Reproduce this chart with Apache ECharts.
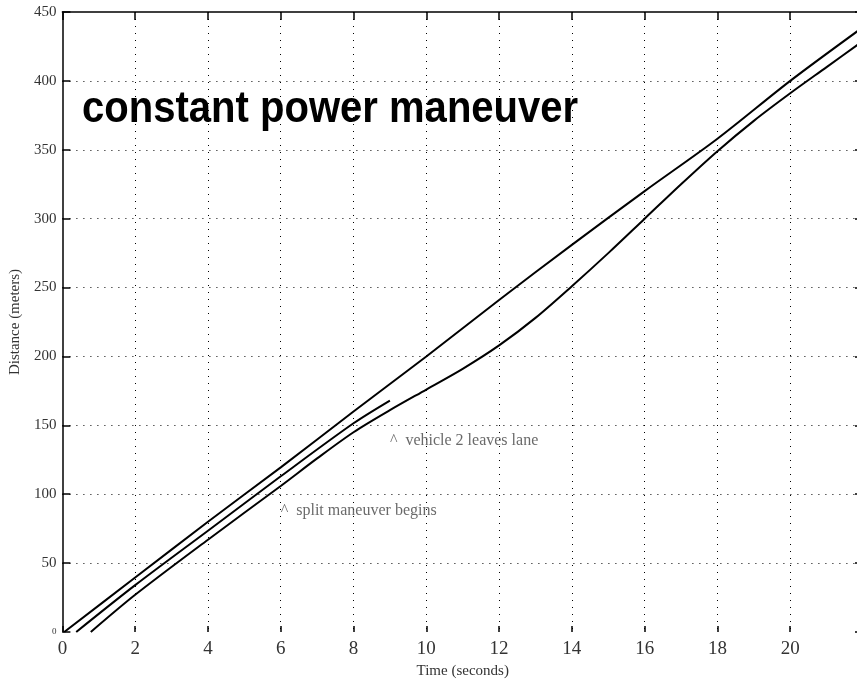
<!DOCTYPE html>
<html>
<head>
<meta charset="utf-8">
<script src="https://cdn.jsdelivr.net/npm/echarts@6/dist/echarts.min.js"></script>
<style>
  html, body { margin: 0; padding: 0; background: #fff; overflow: hidden; }
  /* the plot frame runs a few pixels past the right edge of the window */
  #chart { width: 863px; height: 685px; }
</style>
</head>
<body>
<div id="chart"></div>
<script>
// Vehicle positions during the split manoeuvre (time in s, distance in m)
var leaderTime = [0.05, 2, 4, 6, 8, 9, 10, 12, 14, 16, 18, 20, 22];
var leaderDist = [0, 39.5, 80, 119.5, 160, 180, 200, 241, 281, 320, 358, 400, 439];

var splitTime = [0.38, 2, 4, 6, 8, 9];
var splitDist = [0, 34, 73.5, 113, 151.5, 168];

var followTime = [0.78, 2, 4, 6, 7, 8, 9, 10, 11, 12, 13, 14, 15, 16, 17, 18, 19, 20, 21, 22];
var followDist = [0, 27, 67, 106, 126, 145, 161, 176, 191, 208, 228, 251, 275, 300, 325, 349, 371, 391, 410, 429];

// Event notes: [time, distance, text]
var notes = [
  [6, 88, '^  split maneuver begins'],
  [9, 139, '^  vehicle 2 leaves lane']
];

var xTicks = { min: 0, max: 22, step: 2 };
var yTicks = { min: 0, max: 450, step: 50 };

function pairs(ts, ds) {
  return ts.map(function (t, i) { return [t, ds[i]]; });
}

var serif = '"Liberation Serif", "DejaVu Serif", serif';
var dotted = { color: '#000', width: 1, type: [1, 6] };
var tickStyle = { color: '#000', width: 1.5 };

function curve(name, data) {
  return {
    name: name,
    type: 'line',
    data: data,
    showSymbol: false,
    smooth: 0.3,
    lineStyle: { color: '#000', width: 2 },
    z: 3
  };
}

var chart = echarts.init(document.getElementById('chart'), null, { renderer: 'canvas' });

chart.setOption({
  animation: false,
  backgroundColor: '#fff',
  grid: { left: 60, top: 12, right: 0, bottom: 53, containLabel: false },
  xAxis: [
    {
      type: 'value', position: 'bottom',
      min: xTicks.min, max: xTicks.max, interval: xTicks.step,
      name: 'Time (seconds)', nameLocation: 'middle', nameGap: 30,
      nameTextStyle: { fontFamily: serif, fontSize: 15, color: '#333' },
      axisLine: { show: false, onZero: false },
      axisTick: { show: true, inside: true, length: 6, lineStyle: tickStyle },
      axisLabel: { fontFamily: serif, fontSize: 19, color: '#333', margin: 8, showMaxLabel: false },
      splitLine: { show: true, showMinLine: false, showMaxLine: false, lineStyle: dotted }
    },
    {
      type: 'value', position: 'top',
      min: xTicks.min, max: xTicks.max, interval: xTicks.step,
      axisLine: { show: true, onZero: false, lineStyle: { color: '#000', width: 1.5 } },
      axisTick: { show: true, inside: true, length: 8, lineStyle: tickStyle },
      axisLabel: { show: false },
      splitLine: { show: false }
    }
  ],
  yAxis: [
    {
      type: 'value', position: 'left',
      min: yTicks.min, max: yTicks.max, interval: yTicks.step,
      name: 'Distance (meters)', nameLocation: 'middle', nameGap: 38,
      nameTextStyle: { fontFamily: serif, fontSize: 15, color: '#333' },
      axisLine: { show: true, onZero: false, lineStyle: { color: '#000', width: 1.5 } },
      axisTick: { show: true, inside: true, length: 8, lineStyle: tickStyle },
      axisLabel: {
        fontFamily: serif, fontSize: 15, color: '#333', margin: 6,
        formatter: function (v) { return v === 0 ? '{z|0}' : String(v); },
        rich: { z: { fontFamily: serif, fontSize: 9, color: '#333' } }
      },
      splitLine: { show: true, showMinLine: false, showMaxLine: false, lineStyle: dotted }
    },
    {
      type: 'value', position: 'right',
      min: yTicks.min, max: yTicks.max, interval: yTicks.step,
      axisLine: { show: true, onZero: false, lineStyle: { color: '#000', width: 1.5 } },
      axisTick: { show: true, inside: true, length: 8, lineStyle: tickStyle },
      axisLabel: { show: false },
      splitLine: { show: false }
    }
  ],
  series: [
    curve('vehicle 1', pairs(leaderTime, leaderDist)),
    curve('vehicle 2', pairs(splitTime, splitDist)),
    curve('vehicle 3', pairs(followTime, followDist)),
    {
      name: 'notes',
      type: 'scatter',
      symbolSize: 0,
      data: notes.map(function (n) { return { value: [n[0], n[1]], label: { formatter: n[2] } }; }),
      label: {
        show: true, position: 'right', distance: 0,
        fontFamily: serif, fontSize: 16, color: '#444'
      },
      z: 4
    }
  ],
  graphic: [
    {
      type: 'text',
      x: 82, y: 110,
      scaleX: 0.91,
      style: {
        text: 'constant power maneuver',
        fontFamily: '"Liberation Sans", Arial, sans-serif',
        fontWeight: 'bold',
        fontSize: 44,
        fill: '#000',
        align: 'left',
        verticalAlign: 'middle'
      },
      z: 10
    }
  ]
});
</script>
</body>
</html>
